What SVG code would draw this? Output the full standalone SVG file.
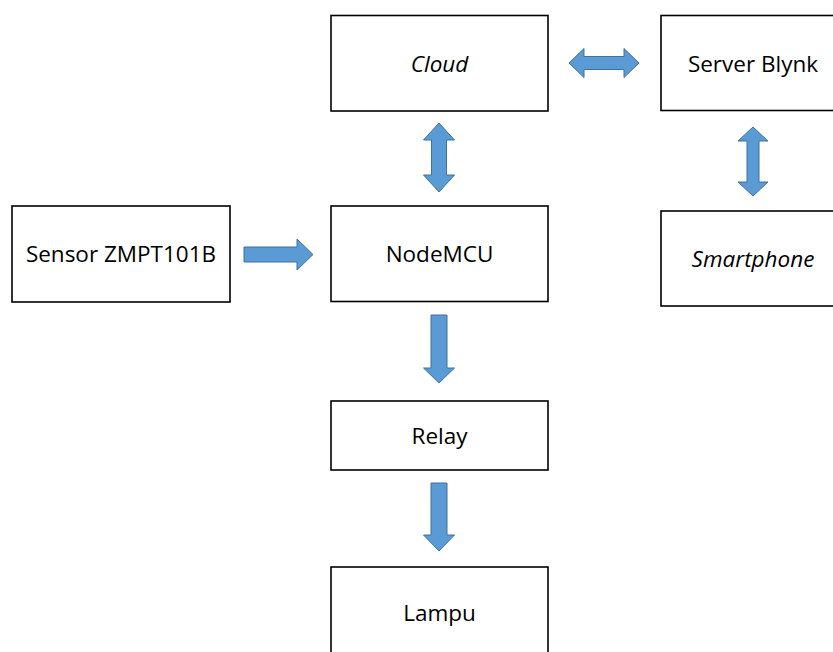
<svg xmlns="http://www.w3.org/2000/svg" width="833" height="652" viewBox="0 0 833 652">
<style>
.box{fill:#fff;stroke:#000;stroke-width:1.6}
.lbl{font-family:"Open Sans","Liberation Sans",sans-serif;font-size:22.5px;fill:#000;text-anchor:middle}
.it{font-style:italic}
.arr{fill:#5B9BD5;stroke:#41719C;stroke-width:1}
</style>
<rect width="833" height="652" fill="#fff"/>
<g id="cloud"><rect class="box" x="331" y="15.5" width="217" height="95.5"/><text class="lbl it" x="439.5" y="72">Cloud</text></g>
<g id="server-blynk"><rect class="box" x="661" y="15.5" width="190" height="95"/><text class="lbl" x="753" y="72">Server Blynk</text></g>
<g id="sensor"><rect class="box" x="12" y="206" width="218" height="96"/><text class="lbl" x="121" y="262">Sensor ZMPT101B</text></g>
<g id="nodemcu"><rect class="box" x="331" y="206" width="217" height="95.5"/><text class="lbl" x="439.5" y="262">NodeMCU</text></g>
<g id="smartphone"><rect class="box" x="661" y="211" width="190" height="95"/><text class="lbl it" x="753" y="267">Smartphone</text></g>
<g id="relay"><rect class="box" x="331" y="401" width="217" height="69"/><text class="lbl" x="439.5" y="444">Relay</text></g>
<g id="lampu"><rect class="box" x="331" y="567" width="217" height="100"/><text class="lbl" x="439.5" y="621">Lampu</text></g>
<g id="connectors">
<polygon class="arr" points="569,63 584,48.5 584,56.5 624,56.5 624,48.5 639,63 624,77.5 624,69.5 584,69.5 584,77.5"/>
<polygon class="arr" points="439,123 454.5,140 446.5,140 446.5,175 454.5,175 439,192 423.5,175 431.5,175 431.5,140 423.5,140"/>
<polygon class="arr" points="753,127 768,141 759,141 759,182 768,182 753,196 738,182 747,182 747,141 738,141"/>
<polygon class="arr" points="244,247 297,247 297,239 313,254.5 297,270 297,262 244,262"/>
<polygon class="arr" points="431,315 447,315 447,368 454.5,368 439,383 423.5,368 431,368"/>
<polygon class="arr" points="431,483 447,483 447,535 454.5,535 439,551 423.5,535 431,535"/>
</g>
</svg>
